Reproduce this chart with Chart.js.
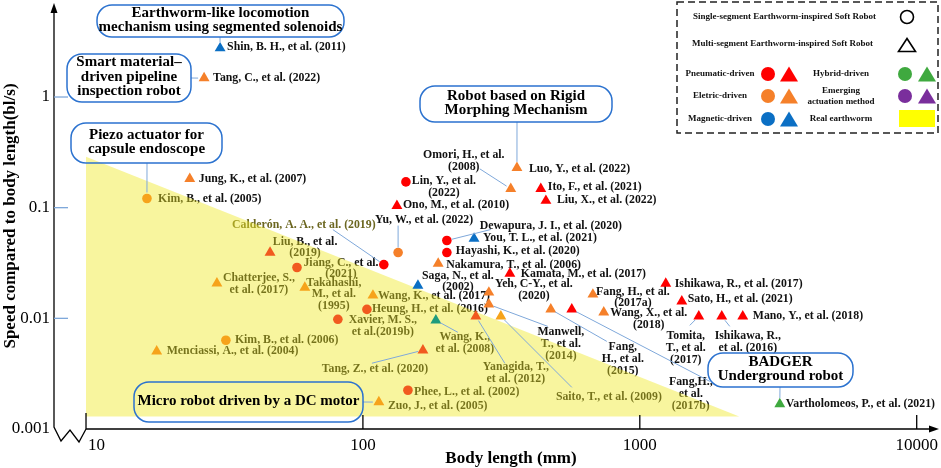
<!DOCTYPE html>
<html>
<head>
<meta charset="utf-8">
<script src="https://cdn.jsdelivr.net/npm/chart.js@4.4.1/dist/chart.umd.min.js"></script>
<style>
  html, body { margin: 0; padding: 0; background: #fff; }
  #wrap { width: 941px; height: 468px; position: relative; }
</style>
</head>
<body>
<div id="wrap"><canvas id="chart"></canvas></div>
<script>
// Studies plotted (label text, \n = line break in the figure)
const studies = [
    'Shin, B. H., et al. (2011)',
    'Tang, C., et al. (2022)',
    'Jung, K., et al. (2007)',
    'Kim, B., et al. (2005)',
    'Ono, M., et al. (2010)',
    'Lin, Y., et al.\n(2022)',
    'Calderón, A. A., et al. (2019)',
    'Yu, W., et al. (2022)',
    'Dewapura, J. I., et al. (2020)',
    'Hayashi, K., et al. (2020)',
    'You, T. L., et al. (2021)',
    'Nakamura, T., et al. (2006)',
    'Omori, H., et al.\n(2008)',
    'Luo, Y., et al. (2022)',
    'Ito, F., et al. (2021)',
    'Liu, X., et al. (2022)',
    'Liu, B., et al.\n(2019)',
    'Jiang, C., et al.\n(2021)',
    'Chatterjee, S.,\net al. (2017)',
    'Takahashi,\nM., et al.\n(1995)',
    'Wang, K., et al. (2017)',
    'Heung, H., et al. (2016)',
    'Xavier, M. S.,\net al.(2019b)',
    'Kim, B., et al. (2006)',
    'Menciassi, A., et al. (2004)',
    'Saga, N., et al.\n(2002)',
    'Wang, K.,\net al. (2008)',
    'Tang, Z., et al. (2020)',
    'Phee, L., et al. (2002)',
    'Zuo, J., et al. (2005)',
    'Yeh, C-Y., et al.\n(2020)',
    'Manwell,\nT., et al.\n(2014)',
    'Yanagida, T.,\net al. (2012)',
    'Saito, T., et al. (2009)',
    'Kamata, M., et al. (2017)',
    'Fang,\nH., et al.\n(2015)',
    'Fang,H.,\net al.\n(2017b)',
    'Fang, H., et al.\n(2017a)',
    'Wang, X., et al.\n(2018)',
    'Ishikawa, R., et al. (2017)',
    'Sato, H., et al. (2021)',
    'Tomita,\nT., et al.\n(2017)',
    'Ishikawa, R.,\net al. (2016)',
    'Mano, Y., et al. (2018)',
    'Vartholomeos, P., et al. (2021)'
];

// Body length (mm)
const bodyLengthMm = [
    30.5, 26.7, 23.7, 16.6, 132.7, 143, 119, 134, 201, 201,
    252, 187, 342, 360, 439, 458, 46.2, 57.8, 29.7, 61.7,
    108.7, 103.4, 81.2, 32.0, 18.0, 158, 183.4, 164.7, 145.4, 114.2,
    285, 285, 255.8, 314.9, 339.4, 477, 568, 677, 741, 1241,
    1418, 1633, 1977, 2354, 3203
];

// Speed compared to body length (bl/s)
const speedBlPerS = [
    2.76, 1.48, 0.182, 0.121, 0.104, 0.171, 0.0306, 0.0393, 0.0505, 0.0393,
    0.0526, 0.0313, 0.148, 0.229, 0.148, 0.1156, 0.0393, 0.0288, 0.0207, 0.0190,
    0.0161, 0.01205, 0.0098, 0.00634, 0.00504, 0.0198, 0.0096, 0.00515, 0.00224, 0.00175,
    0.01714, 0.01336, 0.01042, 0.01042, 0.0254, 0.01205, 0.01205, 0.01644, 0.01132, 0.02065,
    0.01422, 0.01042, 0.01042, 0.01042, 0.00168
];

// single = circle, multi = triangle
const segments = [
    'multi', 'multi', 'multi', 'single', 'multi', 'single', 'single', 'single', 'single', 'single',
    'multi', 'multi', 'multi', 'multi', 'multi', 'multi', 'multi', 'single', 'multi', 'multi',
    'multi', 'single', 'single', 'single', 'multi', 'multi', 'multi', 'multi', 'single', 'multi',
    'multi', 'multi', 'multi', 'multi', 'multi', 'multi', 'multi', 'multi', 'multi', 'multi',
    'multi', 'multi', 'multi', 'multi', 'multi'
];

const actuation = [
    'magnetic', 'electric', 'electric', 'electric', 'pneumatic', 'pneumatic', 'pneumatic', 'electric', 'pneumatic', 'pneumatic',
    'magnetic', 'electric', 'electric', 'electric', 'pneumatic', 'pneumatic', 'electric', 'electric', 'electric', 'electric',
    'electric', 'electric', 'electric', 'electric', 'electric', 'magnetic', 'hybrid', 'electric', 'electric', 'electric',
    'electric', 'electric', 'electric', 'electric', 'pneumatic', 'electric', 'pneumatic', 'electric', 'electric', 'pneumatic',
    'pneumatic', 'pneumatic', 'pneumatic', 'pneumatic', 'hybrid'
];

// Real earthworm band (triangle): corners along the slope, and its floor
const earthwormBandX = [10, 2286];
const earthwormBandY = [0.288, 0.0013];
const earthwormFloor = 0.0013;

// Axis ticks
const xTicks = [10, 100, 1000, 10000];
const yTicks = [1, 0.1, 0.01, 0.001];

// ---- styles / layout ----
const TINT = {
    pneumatic: '#FF0000', electric: '#F5802A', magnetic: '#0B6FC4', hybrid: '#3FA93F',
    amber: '#F6A31B', deep: '#F15A1F', teal: '#1E9B7D', emerging: '#7A2E9C'
};
const LABEL_FONT = 'bold 11.8px "Liberation Serif", "DejaVu Serif", serif';
const BOX_FONT = 'bold 15px "Liberation Serif", "DejaVu Serif", serif';
const LEAD = '#7FA8DA';

// label offset from marker (px), alignment, optional leader start, tint override
const labelLayout = [
    {dx: 7, dy: -1}, {dx: 9, dy: 0}, {dx: 9, dy: 0}, {dx: 11, dy: 0, tint: 'amber'},
    {dx: 6, dy: -1}, {dx: 38, dy: -1, c: 1},
    {dx: -80, dy: -40, c: 1, lead: [-51, -35], ink: '#6B6620'},
    {dx: 26, dy: -33, c: 1, lead: [0, -27]},
    {dx: 104, dy: -15, c: 1, lead: [44, -11]},
    {dx: 9, dy: -2}, {dx: 9, dy: -1}, {dx: 8, dy: 1},
    {dx: -47, dy: -34, c: 1, lead: [-31, -20]},
    {dx: 12, dy: 1}, {dx: 7, dy: -2}, {dx: 11, dy: -1},
    {dx: 35, dy: -11, c: 1, tint: 'deep'},
    {dx: 44, dy: -5, c: 1, tint: 'deep'},
    {dx: 42, dy: -5, c: 1, tint: 'amber'},
    {dx: 29, dy: -5, c: 1, tint: 'amber'},
    {dx: 5, dy: 0, tint: 'amber'},
    {dx: 5, dy: 0, tint: 'deep'},
    {dx: 45, dy: 1, c: 1, tint: 'deep'},
    {dx: 9, dy: 0, tint: 'amber'},
    {dx: 10, dy: 0, tint: 'amber'},
    {dx: 40, dy: -10, c: 1},
    {dx: 29, dy: 17, c: 1, lead: [22, 12], tint: 'teal'},
    {dx: -48, dy: 19, c: 1, lead: [-51, 13], tint: 'deep'},
    {dx: 6, dy: 2, tint: 'deep'},
    {dx: 9, dy: 4, tint: 'amber'},
    {dx: 45, dy: -8, c: 1},
    {dx: 72, dy: 28, c: 1, lead: [59, 22]},
    {dx: 40, dy: 51, c: 1, lead: [29, 47], tint: 'deep'},
    {dx: 108, dy: 81, c: 1, lead: [71, 71], tint: 'amber'},
    {dx: 11, dy: 0},
    {dx: 72, dy: 38, c: 1, lead: [56, 32]},
    {dx: 119, dy: 73, c: 1, lead: [138, 72]},
    {dx: 40, dy: -3, c: 1},
    {dx: 45, dy: 1, c: 1},
    {dx: 9, dy: 0}, {dx: 6, dy: -2},
    {dx: -13, dy: 20, c: 1, lead: [-9, 9]},
    {dx: 26, dy: 20, c: 1, lead: [8, 10]},
    {dx: 10, dy: 0}, {dx: 6, dy: 0}
];

// callout boxes [x, y, w, h], linked study, connector start
const callouts = [
    {lines: ['Earthworm-like locomotion', 'mechanism using segmented solenoids'], box: [97, 5, 247, 32], study: 0, from: [220, 37]},
    {lines: ['Smart material–', 'driven pipeline', 'inspection robot'], box: [67, 54, 124, 48], study: 1, from: [191, 78]},
    {lines: ['Piezo actuator for', 'capsule endoscope'], box: [71, 123, 151, 40], study: 3, from: [147, 163]},
    {lines: ['Robot based on Rigid', 'Morphing Mechanism'], box: [420, 86, 192, 36], study: 13, from: [517, 122]},
    {lines: ['Micro robot driven by a DC motor'], box: [134, 382, 229, 40], study: 29, from: [363, 402]},
    {lines: ['BADGER', 'Underground robot'], box: [708, 353, 145, 34], study: 44, from: [780, 387]}
];

const markerColor = studies.map((s, i) => TINT[labelLayout[i].tint || actuation[i]]);

function px(chart, i) {
    return [chart.scales.x.getPixelForValue(bodyLengthMm[i]), chart.scales.y.getPixelForValue(speedBlPerS[i])];
}

function line(ctx, pts) {
    ctx.beginPath();
    ctx.moveTo(pts[0][0], pts[0][1]);
    for (let k = 1; k < pts.length; k++) ctx.lineTo(pts[k][0], pts[k][1]);
    ctx.stroke();
}

function shortLine(ctx, sx, sy, ex, ey, cut) {
    const len = Math.hypot(ex - sx, ey - sy);
    if (len <= cut) return;
    const t = (len - cut) / len;
    line(ctx, [[sx, sy], [sx + (ex - sx) * t, sy + (ey - sy) * t]]);
}

function triangle(ctx, cx, cy, w, h) {
    ctx.beginPath();
    ctx.moveTo(cx, cy - h / 2);
    ctx.lineTo(cx + w / 2, cy + h / 2);
    ctx.lineTo(cx - w / 2, cy + h / 2);
    ctx.closePath();
}

function roundRect(ctx, x, y, w, h, r) {
    ctx.beginPath();
    ctx.moveTo(x + r, y);
    ctx.arcTo(x + w, y, x + w, y + h, r);
    ctx.arcTo(x + w, y + h, x, y + h, r);
    ctx.arcTo(x, y + h, x, y, r);
    ctx.arcTo(x, y, x + w, y, r);
    ctx.closePath();
}

function drawLabels(chart) {
    const ctx = chart.ctx;
    ctx.save();
    ctx.font = LABEL_FONT;
    ctx.textBaseline = 'middle';
    studies.forEach((name, i) => {
        const L = labelLayout[i];
        const [mx, my] = px(chart, i);
        ctx.fillStyle = L.ink || '#111';
        ctx.textAlign = L.c ? 'center' : 'left';
        name.split('\n').forEach((t, k) => ctx.fillText(t, mx + L.dx, my + L.dy + k * 11.7));
    });
    ctx.restore();
}

function drawLeaders(chart) {
    const ctx = chart.ctx;
    ctx.save();
    ctx.strokeStyle = LEAD;
    ctx.lineWidth = 1;
    studies.forEach((s, i) => {
        const L = labelLayout[i];
        if (!L.lead) return;
        const [mx, my] = px(chart, i);
        shortLine(ctx, mx + L.lead[0], my + L.lead[1], mx, my, 5);
    });
    callouts.forEach(c => {
        const [mx, my] = px(chart, c.study);
        shortLine(ctx, c.from[0], c.from[1], mx, my, 6);
    });
    ctx.restore();
}

function drawAxes(chart) {
    const ctx = chart.ctx;
    const {x, y} = chart.scales;
    const left = chart.chartArea.left;
    const base = y.getPixelForValue(0.001);
    const x10 = x.getPixelForValue(10);
    ctx.save();
    ctx.strokeStyle = '#000';
    ctx.fillStyle = '#000';
    ctx.lineWidth = 1.3;
    // y axis with break zigzag
    line(ctx, [[left, 12], [left, base - 2], [left + 7, base + 12], [left + 16, base + 1], [left + 25, base + 13], [x10, base]]);
    triangle(ctx, left, 8, 7, 10);
    ctx.fill();
    // x axis
    line(ctx, [[x10, base], [chart.width - 10, base]]);
    ctx.beginPath();
    ctx.moveTo(chart.width - 2, base);
    ctx.lineTo(chart.width - 12, base - 3.5);
    ctx.lineTo(chart.width - 12, base + 3.5);
    ctx.closePath();
    ctx.fill();
    xTicks.forEach(v => {
        const p = x.getPixelForValue(v);
        line(ctx, [[p, base], [p, base - (v === 10 ? 16 : 14)]]);
    });
    ctx.strokeStyle = LEAD;
    yTicks.forEach(v => {
        if (v === 0.001) return;
        const p = y.getPixelForValue(v);
        line(ctx, [[left, p], [left + 14, p]]);
    });
    // tick labels
    ctx.font = '17px "Liberation Serif", "DejaVu Serif", serif';
    ctx.textBaseline = 'middle';
    ctx.textAlign = 'right';
    yTicks.forEach(v => ctx.fillText(String(v), left - 4, y.getPixelForValue(v)));
    xTicks.forEach(v => {
        ctx.textAlign = v === 10 ? 'left' : 'center';
        const p = x.getPixelForValue(v);
        ctx.fillText(String(v), v === 10 ? p + 2 : p, base + 17);
    });
    // titles
    ctx.font = 'bold 17px "Liberation Serif", "DejaVu Serif", serif';
    ctx.textAlign = 'center';
    ctx.fillText('Body length (mm)', 511, 459);
    ctx.translate(11, 216);
    ctx.rotate(-Math.PI / 2);
    ctx.fillText('Speed compared to body length(bl/s)', 0, 0);
    ctx.restore();
}

function drawCallouts(chart) {
    const ctx = chart.ctx;
    ctx.save();
    ctx.font = BOX_FONT;
    ctx.textAlign = 'center';
    ctx.textBaseline = 'middle';
    callouts.forEach(c => {
        const [bx, by, bw, bh] = c.box;
        ctx.strokeStyle = '#2B72CF';
        ctx.lineWidth = 1.5;
        roundRect(ctx, bx, by, bw, bh, Math.min(bh / 2, 15));
        ctx.stroke();
        ctx.fillStyle = '#000';
        const lh = 14.5;
        const top = by + bh / 2 - (c.lines.length - 1) * lh / 2 - 1;
        c.lines.forEach((t, k) => ctx.fillText(t, bx + bw / 2, top + k * lh));
    });
    ctx.restore();
}

function drawLegend(chart) {
    const ctx = chart.ctx;
    ctx.save();
    ctx.fillStyle = '#fff';
    ctx.fillRect(677, 2, 262, 131);
    ctx.setLineDash([7, 4]);
    ctx.strokeStyle = '#222';
    ctx.lineWidth = 1.5;
    ctx.strokeRect(677, 2, 261, 131);
    ctx.setLineDash([]);
    ctx.font = 'bold 9px "Liberation Serif", "DejaVu Serif", serif';
    ctx.fillStyle = '#111';
    ctx.textBaseline = 'middle';
    ctx.textAlign = 'left';
    ctx.fillText('Single-segment Earthworm-inspired Soft Robot', 693, 17);
    ctx.fillText('Multi-segment Earthworm-inspired Soft Robot', 692, 44);
    ctx.lineWidth = 1.6;
    ctx.strokeStyle = '#000';
    ctx.beginPath();
    ctx.arc(907, 17, 6.5, 0, Math.PI * 2);
    ctx.stroke();
    triangle(ctx, 907, 45, 17, 13);
    ctx.stroke();
    const rows = [
        ['Pneumatic-driven', 'pneumatic', ['Hybrid-driven'], 'hybrid', 74],
        ['Eletric-driven', 'electric', ['Emerging', 'actuation method'], 'emerging', 96],
        ['Magnetic-driven', 'magnetic', ['Real earthworm'], null, 119]
    ];
    ctx.textAlign = 'center';
    rows.forEach(([a, ca, b, cb, ry]) => {
        ctx.fillStyle = '#111';
        ctx.fillText(a, 720, ry);
        b.forEach((t, k) => ctx.fillText(t, 841, ry + (k - (b.length - 1) / 2) * 11));
        ctx.fillStyle = TINT[ca];
        ctx.beginPath();
        ctx.arc(768, ry, 7, 0, Math.PI * 2);
        ctx.fill();
        triangle(ctx, 789, ry, 18, 15);
        ctx.fill();
        if (cb) {
            ctx.fillStyle = TINT[cb];
            ctx.beginPath();
            ctx.arc(905, ry, 7, 0, Math.PI * 2);
            ctx.fill();
            triangle(ctx, 927, ry, 18, 15);
            ctx.fill();
        } else {
            ctx.fillStyle = '#FFFF00';
            ctx.fillRect(899, ry - 9, 36, 17);
        }
    });
    ctx.restore();
}

const figurePlugin = {
    id: 'figure',
    beforeDatasetsDraw(chart) {
        drawLabels(chart);
    },
    afterDatasetsDraw(chart) {
        drawLeaders(chart);
        drawAxes(chart);
        drawCallouts(chart);
        drawLegend(chart);
    }
};

new Chart(document.getElementById('chart').getContext('2d'), {
    type: 'scatter',
    data: {
        datasets: [
            {
                label: 'Studies',
                data: bodyLengthMm.map((v, i) => ({x: v, y: speedBlPerS[i]})),
                pointStyle: segments.map(s => s === 'single' ? 'circle' : 'triangle'),
                pointRadius: segments.map(s => s === 'single' ? 4.8 : 6.3),
                backgroundColor: markerColor,
                borderWidth: 0,
                order: 1
            },
            {
                type: 'line',
                label: 'Real earthworm',
                data: earthwormBandX.map((v, i) => ({x: v, y: earthwormBandY[i]})),
                fill: {value: earthwormFloor},
                backgroundColor: 'rgba(240, 232, 40, 0.45)',
                borderColor: 'transparent',
                borderWidth: 0,
                pointRadius: 0,
                order: 5
            }
        ]
    },
    options: {
        responsive: true,
        maintainAspectRatio: false,
        animation: false,
        layout: { padding: { left: 54, right: 6, top: 5, bottom: 39 } },
        scales: {
            x: { type: 'logarithmic', min: 7.663, max: 11614, bounds: 'data', display: false },
            y: { type: 'logarithmic', min: 0.001, max: 6.603, bounds: 'data', display: false }
        },
        plugins: {
            legend: { display: false },
            tooltip: { enabled: false }
        }
    },
    plugins: [figurePlugin]
});
</script>
</body>
</html>
